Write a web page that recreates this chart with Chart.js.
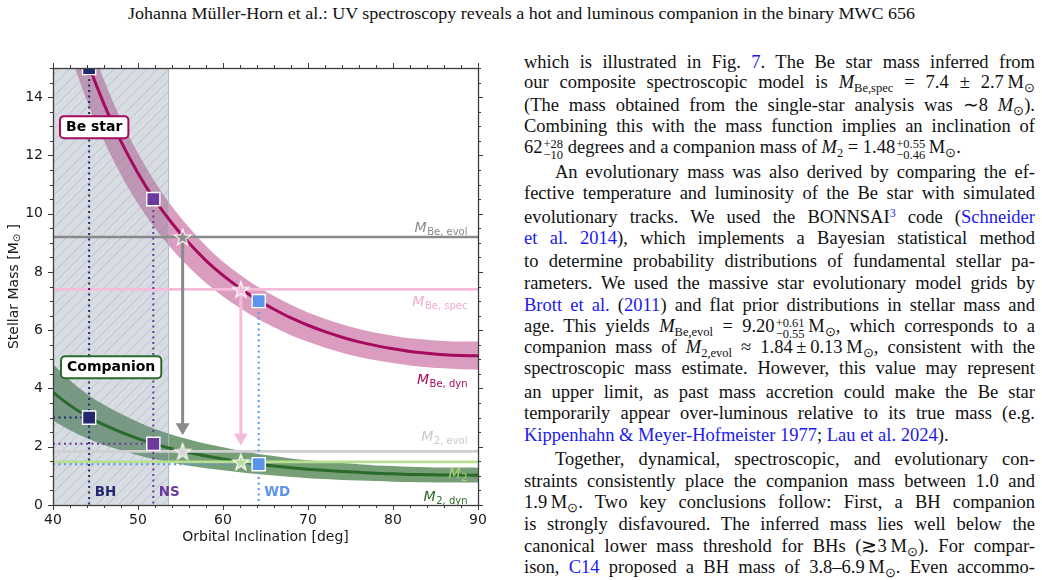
<!DOCTYPE html>
<html><head><meta charset="utf-8">
<script src="https://cdn.jsdelivr.net/npm/chart.js@4.4.1/dist/chart.umd.min.js"></script>
<style>
html,body{margin:0;padding:0;background:#fff;width:1042px;height:580px;overflow:hidden;position:relative}
#hdr{position:absolute;left:0;top:3px;width:1042px;text-align:center;font-family:"Liberation Serif",serif;font-size:17px;line-height:22px;color:#111;white-space:nowrap}
#hdr span{display:inline-block;transform-origin:50% 50%}
#wrap{position:absolute;left:0;top:40px;width:495px;height:520px}
.l{position:absolute;left:524px;width:511px;white-space:nowrap;font-family:"Liberation Serif",serif;font-size:18.5px;line-height:22px;color:#111}
.l.in{left:555px;width:480px}
a,.c{color:#1a1aee;text-decoration:none}
.ss{display:inline-block;vertical-align:-6px;line-height:11px;font-size:12.5px;text-align:left;margin-left:1px}
sub{font-size:12.5px;vertical-align:-4px;line-height:0}
sup{font-size:12px;vertical-align:6px;line-height:0}
</style></head>
<body>
<div id="hdr"><span id="hs">Johanna Müller-Horn et al.: UV spectroscopy reveals a hot and luminous companion in the binary MWC 656</span></div>
<div id="wrap"><canvas id="c" width="495" height="520" style="width:495px;height:520px"></canvas></div>

<div class="l j" data-c="63">which is illustrated in Fig. <a>7</a>. The Be star mass inferred from</div>
<div class="l j" data-c="83">our composite spectroscopic model is <i>M</i><sub>Be,spec</sub> = 7.4 ± 2.7&thinsp;M<sub>⊙</sub></div>
<div class="l j" data-c="106">(The mass obtained from the single-star analysis was ∼8 <i>M</i><sub>⊙</sub>).</div>
<div class="l j" data-c="127">Combining this with the mass function implies an inclination of</div>
<div class="l" data-c="148">62<span class="ss">+28<br>−10</span> degrees and a companion mass of <i>M</i><sub>2</sub> = 1.48<span class="ss">+0.55<br>−0.46</span>&thinsp;M<sub>⊙</sub>.</div>
<div class="l j in" data-c="173">An evolutionary mass was also derived by comparing the ef-</div>
<div class="l j" data-c="194">fective temperature and luminosity of the Be star with simulated</div>
<div class="l j" data-c="218">evolutionary tracks. We used the BONNSAI<sup class="c">3</sup> code (<a>Schneider</a></div>
<div class="l j" data-c="239"><a>et al. 2014</a>), which implements a Bayesian statistical method</div>
<div class="l j" data-c="262">to determine probability distributions of fundamental stellar pa-</div>
<div class="l j" data-c="284">rameters. We used the massive star evolutionary model grids by</div>
<div class="l j" data-c="306"><a>Brott et al.</a> (<a>2011</a>) and flat prior distributions in stellar mass and</div>
<div class="l j" data-c="327">age. This yields <i>M</i><sub>Be,evol</sub> = 9.20<span class="ss">+0.61<br>−0.55</span>&thinsp;M<sub>⊙</sub>, which corresponds to a</div>
<div class="l j" data-c="348">companion mass of <i>M</i><sub>2,evol</sub> ≈ 1.84&thinsp;±&thinsp;0.13&thinsp;M<sub>⊙</sub>, consistent with the</div>
<div class="l j" data-c="369">spectroscopic mass estimate. However, this value may represent</div>
<div class="l j" data-c="393">an upper limit, as past mass accretion could make the Be star</div>
<div class="l j" data-c="414">temporarily appear over-luminous relative to its true mass (e.g.</div>
<div class="l" data-c="436"><a>Kippenhahn &amp; Meyer-Hofmeister 1977</a>; <a>Lau et al. 2024</a>).</div>
<div class="l j in" data-c="460">Together, dynamical, spectroscopic, and evolutionary con-</div>
<div class="l j" data-c="482">straints consistently place the companion mass between 1.0 and</div>
<div class="l j" data-c="503">1.9&thinsp;M<sub>⊙</sub>. Two key conclusions follow: First, a BH companion</div>
<div class="l j" data-c="525">is strongly disfavoured. The inferred mass lies well below the</div>
<div class="l j" data-c="547">canonical lower mass threshold for BHs (≳3&thinsp;M<sub>⊙</sub>). For compar-</div>
<div class="l j" data-c="568">ison, <a>C14</a> proposed a BH mass of 3.8–6.9&thinsp;M<sub>⊙</sub>. Even accommo-</div>

<script>
// ---------------- data ----------------
const incl    = [40,42,44,46,48,50,52,54,56,58,60,62,64,66,68,70,72,74,76,78,80,82,84,86,88,90];
const beDyn   = [19.28,17.09,15.27,13.76,12.48,11.39,10.46,9.67,8.99,8.39,7.88,7.44,7.05,6.72,6.42,6.17,5.95,5.76,5.60,5.47,5.36,5.27,5.21,5.16,5.13,5.12];
const beDynHi = [20.44,18.12,16.19,14.59,13.23,12.07,11.09,10.25,9.53,8.89,8.35,7.90,7.51,7.17,6.87,6.61,6.39,6.20,6.04,5.91,5.81,5.72,5.67,5.63,5.61,5.61];
const beDynLo = [17.51,15.52,13.87,12.49,11.33,10.34,9.50,8.78,8.16,7.62,7.16,6.76,6.40,6.10,5.83,5.60,5.40,5.23,5.08,4.97,4.87,4.79,4.73,4.69,4.66,4.65];
const m2Dyn   = [3.86,3.42,3.05,2.75,2.50,2.28,2.09,1.93,1.80,1.68,1.58,1.49,1.41,1.34,1.28,1.23,1.19,1.15,1.12,1.09,1.07,1.05,1.04,1.03,1.03,1.02];
const m2DynHi = [4.83,4.28,3.81,3.44,3.13,2.85,2.61,2.41,2.25,2.10,1.98,1.86,1.76,1.68,1.60,1.54,1.49,1.44,1.40,1.36,1.34,1.31,1.30,1.29,1.29,1.28];
const m2DynLo = [2.90,2.57,2.29,2.06,1.88,1.71,1.57,1.45,1.35,1.26,1.19,1.12,1.06,1.01,0.96,0.92,0.89,0.86,0.84,0.82,0.80,0.79,0.78,0.77,0.77,0.77];

const refNames = ['M_Be,evol','M_Be,spec','M_2,evol','M_2'];
const refMass  = [9.2, 7.4, 1.84, 1.48];

const remnantNames  = ['BH','NS','WD'];
const remnantIncl   = [44.25, 51.8, 64.2];
const remnantBeMass = [15.0, 10.5, 7.0];
const remnantM2     = [3.0, 2.1, 1.4];

const starIncl = [55.25, 62.1, 55.25, 62.1];
const starMass = [9.2, 7.4, 1.84, 1.48];

const arrowIncl = [55.25, 62.1];
const arrowTop  = [9.2, 7.4];
const arrowHead = [2.67, 2.32];

const shadeRange = [40, 53.6];
const xRange = [40, 90];
const yRange = [0, 15];
const xTicks = [40,50,60,70,80,90];
const yTicks = [0,2,4,6,8,10,12,14];

// ---------------- styles ----------------
const C = {
  be:'#a50b5e', beBand:'rgba(165,11,94,0.40)',
  m2:'#2a6a2a', m2Band:'rgba(35,100,35,0.62)',
  ref:['#8a8a8a','#f4bcd9','#cfcfcf','#b9e090'],
  refText:['#8a8a8a','#f2a9cf','#c9c9c9','#a8d878'],
  rem:['#25276f','#6c3a9e','#5b94ea'],
  star:['#8c8c8c','#f4bcd9','#d4d4d4','#b9e090'],
  arrow:['#8a8a8a','#f4bcd9']
};

// ---------------- text layout for the page ----------------
(function(){
  const hs=document.getElementById('hs');
  const w=hs.getBoundingClientRect().width;
  hs.style.transform='scaleX('+(787/w)+')';
  document.querySelectorAll('.l').forEach(el=>{
    el.style.top=(parseFloat(el.dataset.c)-12)+'px';
    if(el.classList.contains('j')){
      el.innerHTML='<span>'+el.innerHTML+'</span>';
      const sp=el.firstChild;
      const nat=sp.getBoundingClientRect().width;
      const target=parseFloat(getComputedStyle(el).width);
      const n=(sp.textContent.match(/ /g)||[]).length;
      if(n>0) el.style.wordSpacing=((target-nat)/n)+'px';
    }
  });
})();

// ---------------- helpers ----------------
const pts=(xs,ys)=>xs.map((x,i)=>({x:x,y:ys[i]}));
function starImg(fill,R){
  const s=Math.ceil(R*2+4),c=document.createElement('canvas');c.width=c.height=s;
  const g=c.getContext('2d'),cx=s/2,cy=s/2+0.8,r=R*0.4;
  g.beginPath();
  for(let k=0;k<10;k++){const a=-Math.PI/2+k*Math.PI/5,rr=k%2?r:R;g.lineTo(cx+rr*Math.cos(a),cy+rr*Math.sin(a));}
  g.closePath();g.fillStyle=fill;g.fill();g.strokeStyle='#fff';g.lineWidth=1.2;g.lineJoin='miter';g.stroke();
  return c;
}
const cv=document.getElementById('c');
function hatch(){
  const s=11,c=document.createElement('canvas');c.width=c.height=s;
  const g=c.getContext('2d');
  g.fillStyle='rgba(122,140,160,0.30)';g.fillRect(0,0,s,s);
  g.strokeStyle='rgba(130,136,145,0.42)';g.lineWidth=0.7;g.beginPath();
  g.moveTo(0,s);g.lineTo(s,0);g.moveTo(-1,1);g.lineTo(1,-1);g.moveTo(s-1,s+1);g.lineTo(s+1,s-1);g.stroke();
  return cv.getContext('2d').createPattern(c,'repeat');
}

// ---------------- datasets ----------------
const curve={showLine:true,pointRadius:0,cubicInterpolationMode:'monotone',clip:0};
const ds=[];
ds.push(Object.assign({label:'beHi',data:pts(incl,beDynHi),borderWidth:0,fill:1,backgroundColor:C.beBand,order:21},curve)); //0
ds.push(Object.assign({label:'beLo',data:pts(incl,beDynLo),borderWidth:0,fill:false,order:22},curve)); //1
ds.push(Object.assign({label:'m2Hi',data:pts(incl,m2DynHi),borderWidth:0,fill:3,backgroundColor:C.m2Band,order:19},curve)); //2
ds.push(Object.assign({label:'m2Lo',data:pts(incl,m2DynLo),borderWidth:0,fill:false,order:20},curve)); //3
ds.push({label:'shade',data:[{x:shadeRange[0],y:yRange[1]},{x:shadeRange[1],y:yRange[1]}],showLine:true,pointRadius:0,borderWidth:0,fill:'origin',backgroundColor:hatch(),order:17,clip:0});
ds.push({label:'shadeEdge',data:[{x:shadeRange[1],y:yRange[0]},{x:shadeRange[1],y:yRange[1]}],showLine:true,pointRadius:0,borderWidth:1,borderColor:'#aab5c6',order:16,clip:0});
ds.push(Object.assign({label:'beDyn',data:pts(incl,beDyn),borderWidth:3,borderColor:C.be,fill:false,order:12},curve));
ds.push(Object.assign({label:'m2Dyn',data:pts(incl,m2Dyn),borderWidth:3,borderColor:C.m2,fill:false,order:13},curve));
refMass.forEach((m,i)=>ds.push({label:refNames[i],data:[{x:xRange[0],y:m},{x:xRange[1],y:m}],showLine:true,pointRadius:0,borderWidth:2.6,borderColor:C.ref[i],order:8+i,clip:0}));
remnantNames.forEach((n,i)=>{
  ds.push({label:n+'v',data:[{x:remnantIncl[i],y:remnantBeMass[i]},{x:remnantIncl[i],y:yRange[0]}],showLine:true,pointRadius:0,borderWidth:2,borderDash:[2,3.5],borderColor:C.rem[i],order:6,clip:0});
  ds.push({label:n+'h',data:[{x:xRange[0],y:remnantM2[i]},{x:remnantIncl[i],y:remnantM2[i]}],showLine:true,pointRadius:0,borderWidth:2,borderDash:[2,3.5],borderColor:C.rem[i],order:6,clip:0});
});
arrowIncl.forEach((x,i)=>ds.push({label:'arrow'+i,data:[{x:x,y:arrowTop[i]},{x:x,y:arrowHead[i]}],showLine:true,borderWidth:3,borderColor:C.arrow[i],
  pointRadius:[0,8],pointStyle:'triangle',pointRotation:180,pointBackgroundColor:C.arrow[i],pointBorderWidth:0,order:4,clip:0}));
ds.push({label:'remBe',data:pts(remnantIncl,remnantBeMass),pointStyle:'rect',pointRadius:9.3,pointBackgroundColor:C.rem,pointBorderColor:'#fff',pointBorderWidth:1.4,order:2,clip:0});
ds.push({label:'remM2',data:pts(remnantIncl,remnantM2),pointStyle:'rect',pointRadius:9.3,pointBackgroundColor:C.rem,pointBorderColor:'#fff',pointBorderWidth:1.4,order:2,clip:0});
ds.push({label:'stars',data:pts(starIncl,starMass),pointStyle:C.star.map(c=>starImg(c,8.6)),pointRadius:8,order:0,clip:0});

// ---------------- decoration plugin (frame, ticks, titles, annotations) ----------------
const FONT='"DejaVu Sans", sans-serif';
const decor={id:'decor',afterDraw(ch,args,o){
  const g=ch.ctx,a=ch.chartArea,xs=ch.scales.x,ys=ch.scales.y;
  g.save();
  g.strokeStyle='#3a3a3a';g.lineWidth=1;
  const tk=(x1,y1,x2,y2)=>{g.beginPath();g.moveTo(x1,y1);g.lineTo(x2,y2);g.stroke();};
  for(let v=xRange[0];v<=xRange[1]+1e-9;v+=2){const p=Math.round(xs.getPixelForValue(v))+0.5,L=(v%10===0)?5:3;tk(p,a.bottom,p,a.bottom+L);tk(p,a.top,p,a.top-L);}
  for(let v=yRange[0];v<=yRange[1]+1e-9;v+=0.5){const p=Math.round(ys.getPixelForValue(v))+0.5,L=(v%2===0)?5:3;tk(a.left,p,a.left-L,p);tk(a.right,p,a.right+L,p);}
  g.strokeStyle='#3c3c3c';g.lineWidth=1.3;g.strokeRect(Math.round(a.left)+0.5,Math.round(a.top)+0.5,Math.round(a.right-a.left),Math.round(a.bottom-a.top));
  g.fillStyle='#1a1a1a';g.font='14px '+FONT;g.textAlign='center';g.textBaseline='middle';
  g.fillText('Orbital Inclination [deg]',(a.left+a.right)/2,497);
  g.save();g.translate(14,(a.top+a.bottom)/2);g.rotate(-Math.PI/2);
  const t1='Stellar Mass [M',t2='⊙',t3=' ]';g.font='14px '+FONT;const w1=g.measureText(t1).width,w3=g.measureText(t3).width;g.font='10px '+FONT;const w2=g.measureText(t2).width;
  let x0=-(w1+w2+w3)/2;g.textAlign='left';g.font='14px '+FONT;g.fillText(t1,x0,0);g.font='10px '+FONT;g.fillText(t2,x0+w1,3);g.font='14px '+FONT;g.fillText(t3,x0+w1+w2,0);
  g.restore();
  g.font='bold 13.5px '+FONT;g.textAlign='left';g.textBaseline='middle';
  remnantNames.forEach((n,i)=>{g.fillStyle=C.rem[i];g.fillText(n,xs.getPixelForValue(remnantIncl[i])+5.5,ys.getPixelForValue(0.43));});
  o.labels.forEach(L=>{
    g.textBaseline='alphabetic';
    g.font='italic 14px '+FONT;const wm=g.measureText('M').width;
    g.font='10px '+FONT;const ws=g.measureText(L.sub).width;
    const xr=a.right-11,yb=ys.getPixelForValue(L.at)+4;
    g.fillStyle=L.color;
    g.font='italic 14px '+FONT;g.fillText('M',xr-ws-wm,yb);
    g.font='10px '+FONT;g.fillText(L.sub,xr-ws+0.5,yb+3);
  });
  o.boxes.forEach(B=>{
    g.font='bold 14px '+FONT;const tw=g.measureText(B.text).width;
    const x=xs.getPixelForValue(B.x),yc=ys.getPixelForValue(B.y),w=tw+12,h=22;
    g.beginPath();g.roundRect(x,yc-h/2,w,h,4);g.fillStyle='#fff';g.fill();g.lineWidth=2;g.strokeStyle=B.color;g.stroke();
    g.fillStyle='#000';g.textAlign='left';g.textBaseline='middle';g.fillText(B.text,x+6,yc+0.5);
  });
  g.restore();
}};

new Chart(cv,{
  type:'scatter',
  data:{datasets:ds},
  options:{
    responsive:false,animation:false,devicePixelRatio:1,
    layout:{padding:{top:28,right:17,left:0,bottom:0}},
    plugins:{legend:{display:false},tooltip:{enabled:false},
      decor:{
        labels:[
          {sub:'Be, evol',at:9.52,color:C.refText[0]},
          {sub:'Be, spec',at:6.96,color:C.refText[1]},
          {sub:'Be, dyn',at:4.28,color:C.be},
          {sub:'2, evol',at:2.32,color:C.refText[2]},
          {sub:'2',at:1.05,color:C.refText[3]},
          {sub:'2, dyn',at:0.26,color:C.m2}
        ],
        boxes:[
          {text:'Be star',x:40.82,y:12.97,color:C.be},
          {text:'Companion',x:40.94,y:4.73,color:C.m2}
        ]
      }},
    scales:{
      x:{type:'linear',min:xRange[0],max:xRange[1],afterFit:s=>{s.height=55;},afterBuildTicks:s=>{s.ticks=xTicks.map(v=>({value:v}));},
         grid:{display:false,drawTicks:true,tickLength:5},border:{display:false},
         ticks:{font:{family:'DejaVu Sans',size:14},color:'#1a1a1a',padding:2,maxRotation:0,autoSkip:false}},
      y:{type:'linear',min:yRange[0],max:yRange[1],afterFit:s=>{s.width=53;},afterBuildTicks:s=>{s.ticks=yTicks.map(v=>({value:v}));},
         grid:{display:false,drawTicks:true,tickLength:5},border:{display:false},
         ticks:{font:{family:'DejaVu Sans',size:14},color:'#1a1a1a',padding:5,autoSkip:false}}
    }
  },
  plugins:[decor]
});
</script>
</body></html>
